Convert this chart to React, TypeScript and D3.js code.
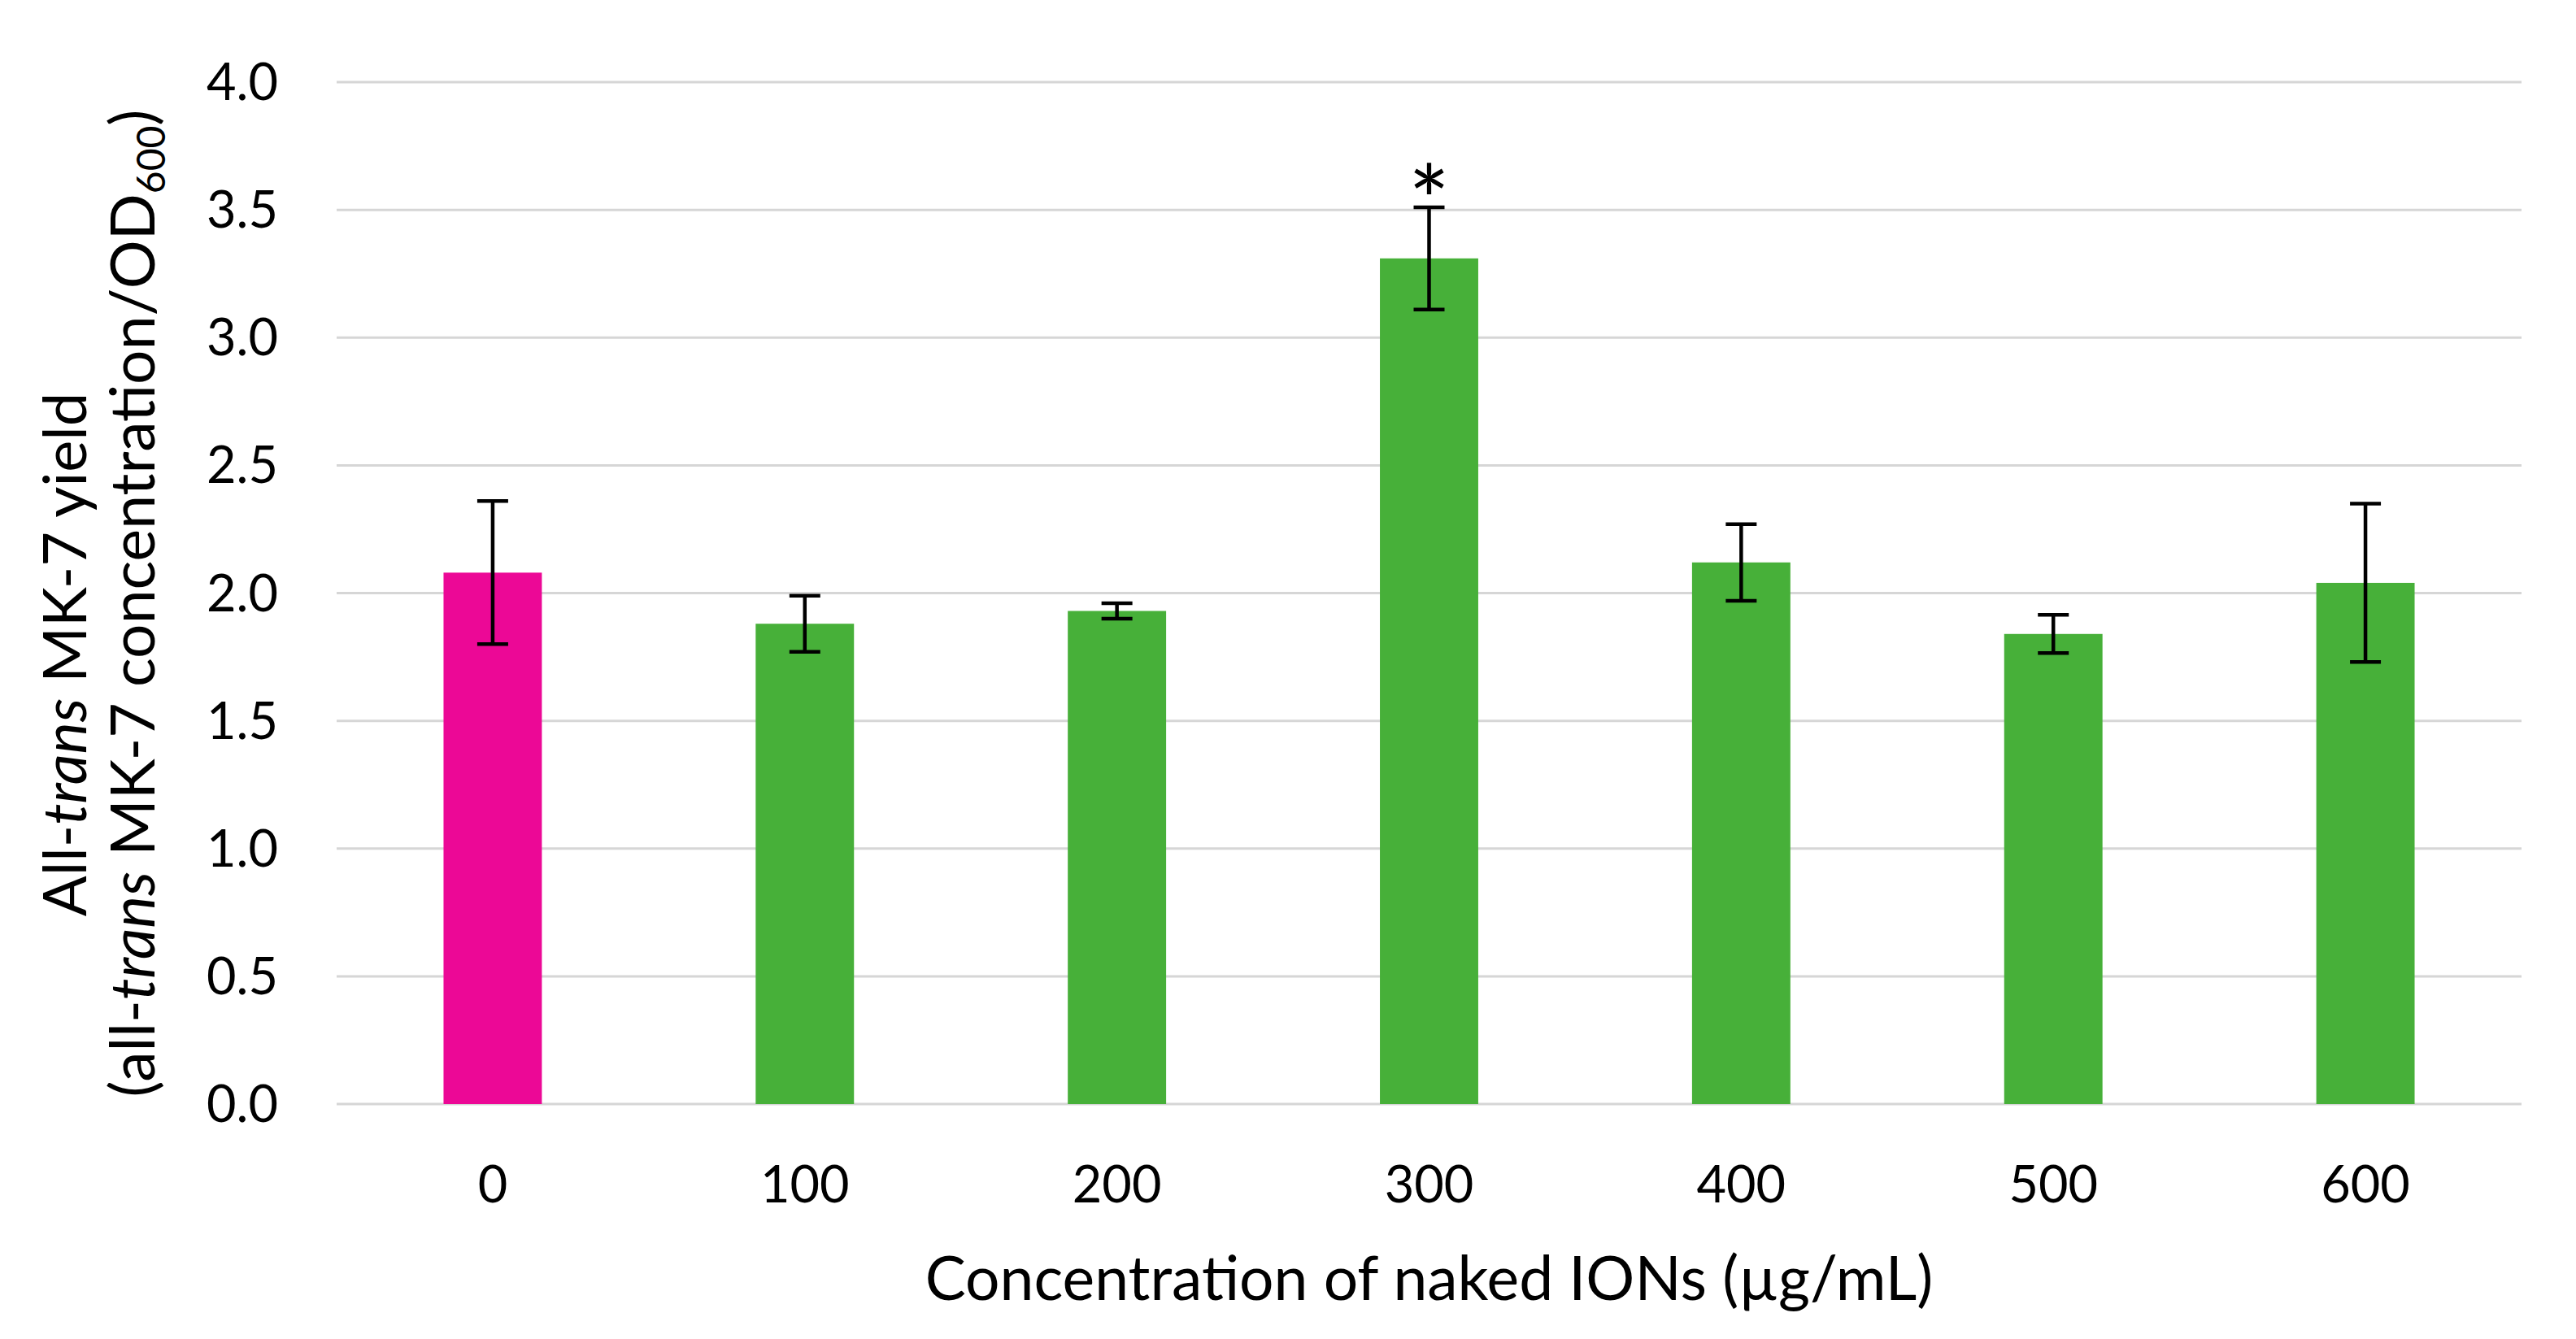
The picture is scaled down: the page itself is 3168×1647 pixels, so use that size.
import React, { useEffect, useRef } from 'react'
import { select, scaleBand, scaleLinear, format } from 'd3'

const categories = ['0', '100', '200', '300', '400', '500', '600']
const yieldMeans = [2.08, 1.88, 1.93, 3.31, 2.12, 1.84, 2.04]
const yieldErrors = [0.28, 0.11, 0.03, 0.2, 0.15, 0.075, 0.31]
const significance = ['', '', '', '*', '', '', '']
const yTicks = [0, 0.5, 1, 1.5, 2, 2.5, 3, 3.5, 4]
const controlCategory = '0'

const xTitle = 'Concentration of naked IONs (µg/mL)'

const width = 3168
const height = 1647
const margin = { top: 101, right: 67, bottom: 289, left: 414 }

const pink = '#EC0896'
const green = '#47B039'
const font = 'Lato, "Open Sans", sans-serif'

const App = () => {
    const svgRef = useRef(null)

    useEffect(() => {
        const svg = select(svgRef.current)
        svg.selectAll('*').remove()

        const x = scaleBand()
            .domain(categories)
            .range([margin.left, width - margin.right])
            .paddingInner(0.685)
            .paddingOuter(0.3425)

        const y = scaleLinear()
            .domain([0, 4])
            .range([height - margin.bottom, margin.top])

        // gridlines
        svg.append('g')
            .selectAll('line')
            .data(yTicks)
            .join('line')
            .attr('x1', margin.left)
            .attr('x2', width - margin.right)
            .attr('y1', d => y(d))
            .attr('y2', d => y(d))
            .attr('stroke', '#D6D6D6')
            .attr('stroke-width', 3)

        // y tick labels
        svg.append('g')
            .selectAll('text')
            .data(yTicks)
            .join('text')
            .attr('x', 342)
            .attr('y', d => y(d))
            .attr('dy', '0.35em')
            .attr('text-anchor', 'end')
            .attr('font-family', font)
            .attr('font-size', 63)
            .attr('fill', '#000')
            .text(d => format('.1f')(d))

        const data = categories.map((c, i) => ({ c, m: yieldMeans[i], e: yieldErrors[i], s: significance[i] }))

        // bars
        svg.append('g')
            .selectAll('rect')
            .data(data)
            .join('rect')
            .attr('x', d => x(d.c))
            .attr('width', x.bandwidth())
            .attr('y', d => y(d.m))
            .attr('height', d => y(0) - y(d.m))
            .attr('fill', d => d.c === controlCategory ? pink : green)

        // error bars
        const capHalf = 19
        const err = svg.append('g')
            .attr('stroke', '#000')
            .attr('stroke-width', 4.5)
        const cx = d => x(d.c) + x.bandwidth() / 2
        err.selectAll('line.v')
            .data(data)
            .join('line')
            .attr('class', 'v')
            .attr('x1', cx).attr('x2', cx)
            .attr('y1', d => y(d.m - d.e))
            .attr('y2', d => y(d.m + d.e))
        err.selectAll('line.t')
            .data(data)
            .join('line')
            .attr('class', 't')
            .attr('x1', d => cx(d) - capHalf).attr('x2', d => cx(d) + capHalf)
            .attr('y1', d => y(d.m + d.e)).attr('y2', d => y(d.m + d.e))
        err.selectAll('line.b')
            .data(data)
            .join('line')
            .attr('class', 'b')
            .attr('x1', d => cx(d) - capHalf).attr('x2', d => cx(d) + capHalf)
            .attr('y1', d => y(d.m - d.e)).attr('y2', d => y(d.m - d.e))

        // significance marks
        svg.append('g')
            .selectAll('text')
            .data(data.filter(d => d.s))
            .join('text')
            .attr('x', cx)
            .attr('y', d => y(d.m + d.e) + 36)
            .attr('text-anchor', 'middle')
            .attr('font-family', font)
            .attr('font-size', 120)
            .attr('fill', '#000')
            .text(d => d.s)

        // x tick labels
        svg.append('g')
            .selectAll('text')
            .data(categories)
            .join('text')
            .attr('x', d => x(d) + x.bandwidth() / 2)
            .attr('y', 1479)
            .attr('text-anchor', 'middle')
            .attr('font-family', font)
            .attr('font-size', 63)
            .attr('fill', '#000')
            .text(d => d)

        // x title
        svg.append('text')
            .attr('x', (margin.left + width - margin.right) / 2)
            .attr('y', 1599)
            .attr('text-anchor', 'middle')
            .attr('font-family', font)
            .attr('font-size', 75)
            .attr('fill', '#000')
            .text(xTitle)

        // y title, line 1
        const t1 = svg.append('text')
            .attr('transform', 'translate(106, 805) rotate(-90)')
            .attr('text-anchor', 'middle')
            .attr('font-family', font)
            .attr('font-size', 74)
            .attr('fill', '#000')
        t1.append('tspan').text('All-')
        t1.append('tspan').attr('font-style', 'italic').text('trans')
        t1.append('tspan').text(' MK-7 yield')

        // y title, line 2
        const t2 = svg.append('text')
            .attr('transform', 'translate(190, 742) rotate(-90)')
            .attr('text-anchor', 'middle')
            .attr('font-family', font)
            .attr('font-size', 75)
            .attr('fill', '#000')
        t2.append('tspan').text('(all-')
        t2.append('tspan').attr('font-style', 'italic').text('trans')
        t2.append('tspan').text(' MK-7 concentration/OD')
        t2.append('tspan').attr('font-size', 48).attr('dy', 13).text('600')
        t2.append('tspan').attr('dy', -13).text(')')

    }, [])

    return (
        <svg ref={svgRef} width={width} height={height}
            style={{ position: 'absolute', left: 0, top: 0, background: '#fff' }}>
        </svg>
    )
}

export default App
